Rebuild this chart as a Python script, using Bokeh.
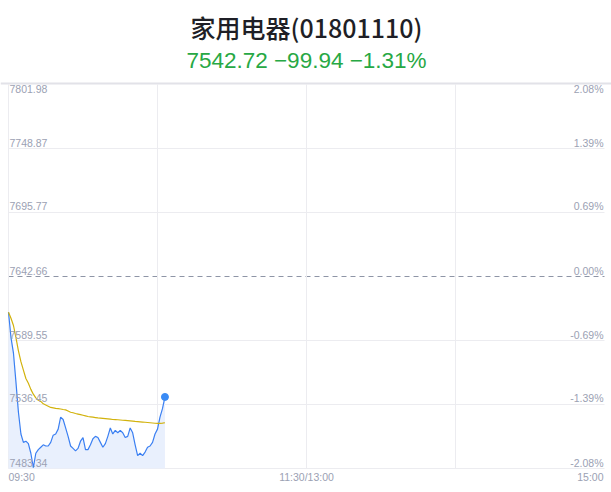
from bokeh.plotting import figure
from bokeh.models import Range1d, Label, ColumnDataSource
from bokeh.embed import file_html
from bokeh.resources import INLINE

title_text = "家用电器(01801110)"
subtitle_text = "7542.72 \u221299.94 \u22121.31%"
prev_close = 7642.66

price_ticks = [7801.98, 7748.87, 7695.77, 7642.66, 7589.55, 7536.45, 7483.34]
pct_labels = ["2.08%", "1.39%", "0.69%", "0.00%", "-0.69%", "-1.39%", "-2.08%"]
time_ticks = [0, 120, 240]
time_labels = ["09:30", "11:30/13:00", "15:00"]
vgrid_ticks = [0, 60, 120, 180]

minute_idx = list(range(64))
price = [7613.0, 7592, 7579, 7555, 7530, 7512, 7505, 7506, 7504, 7496,
         7484, 7496, 7499, 7501, 7503, 7502, 7502, 7505, 7511, 7512,
         7516, 7526, 7524, 7517, 7510, 7502, 7500, 7498, 7500, 7506,
         7509, 7499, 7499, 7503, 7508, 7510, 7509, 7505, 7501, 7504,
         7510, 7517, 7512, 7515, 7513, 7515, 7513, 7509, 7510, 7517,
         7513, 7503, 7494, 7496, 7494, 7497, 7501, 7502, 7505, 7512,
         7516, 7526, 7533, 7542.72]
avg_price = [7613, 7608, 7602, 7592, 7581, 7572, 7565, 7558, 7554, 7549,
             7545, 7542, 7540, 7539, 7537, 7536, 7535, 7534, 7533.7, 7533.3,
             7533, 7532.7, 7532.3, 7532, 7531, 7530, 7529.6, 7529, 7528.5, 7528,
             7527.5, 7527, 7526.5, 7526.2, 7525.9, 7525.6, 7525.3, 7525.1, 7524.9, 7524.7,
             7524.5, 7524.3, 7524, 7523.9, 7523.8, 7523.6, 7523.4, 7523.2, 7523, 7522.8,
             7522.6, 7522.4, 7522.3, 7522.1, 7521.9, 7521.7, 7521.5, 7521.3, 7521.1, 7520.9,
             7520.8, 7520.8, 7521, 7521.3]

LABEL_COLOR = "#9ba1b3"
GRID_COLOR = "#ececf0"
LABEL_FONT = "Liberation Sans"
TITLE_FONT = "'Noto Sans CJK SC Medium', 'Noto Sans CJK SC'"
NUM_FONT = "Liberation Sans"

W, H = 611, 492
PLOT_L, PLOT_R, PLOT_T, PLOT_B = 8, 604, 84, 468

ymin, ymax = price_ticks[-1], price_ticks[0]
xs_per_px = 240.0 / (PLOT_R - PLOT_L)
ys_per_px = (ymax - ymin) / (PLOT_B - PLOT_T)
x_range = Range1d(0 - PLOT_L * xs_per_px, 240 + (W - PLOT_R) * xs_per_px)
y_range = Range1d(ymin - (H - PLOT_B) * ys_per_px, ymax + PLOT_T * ys_per_px)

p = figure(width=W, height=H, output_backend="svg", toolbar_location=None,
           x_range=x_range, y_range=y_range,
           x_axis_type=None, y_axis_type=None,
           min_border=0)
p.outline_line_color = None
p.xgrid.visible = False
p.ygrid.visible = False
p.background_fill_color = "white"
p.border_fill_color = "white"

# horizontal grid lines
solid = [t for t in price_ticks if t != prev_close and t != ymax]
p.segment(x0=[0] * len(solid), x1=[240] * len(solid), y0=solid, y1=solid,
          line_color=GRID_COLOR, line_width=1)
p.segment(x0=[0], x1=[240], y0=[prev_close], y1=[prev_close],
          line_color="#8e95a6", line_width=1, line_dash="5 4")
# vertical grid lines
p.segment(x0=vgrid_ticks, x1=vgrid_ticks, y0=[ymin] * len(vgrid_ticks),
          y1=[ymax] * len(vgrid_ticks), line_color=GRID_COLOR, line_width=1)
# top border
p.segment(x0=[x_range.start], x1=[x_range.end], y0=[ymax + ys_per_px],
          y1=[ymax + ys_per_px], line_color="#e2e2e8", line_width=2)

src = ColumnDataSource(dict(x=minute_idx, price=price, avg=avg_price,
                            base=[ymin] * len(minute_idx)))
p.varea(x="x", y1="base", y2="price", source=src, fill_color="#e9f0fd", fill_alpha=1.0)
p.line(x="x", y="price", source=src, line_color="#3a7ff2", line_width=1.2)
p.line(x="x", y="avg", source=src, line_color="#d2b20c", line_width=1.2)
p.scatter(x=[minute_idx[-1]], y=[price[-1]], size=7, fill_color="#3a8bf5", line_color="#3a8bf5")

# y labels
for i, (t, pl) in enumerate(zip(price_ticks, pct_labels)):
    off = -4 if i == 0 else 6
    p.add_layout(Label(x=0, y=t, text=f"{t:.2f}", x_offset=1, y_offset=off,
                       text_baseline="middle", text_align="left",
                       text_font=LABEL_FONT, text_font_size="10.5px", text_color=LABEL_COLOR))
    p.add_layout(Label(x=240, y=t, text=pl, x_offset=-1, y_offset=off,
                       text_baseline="middle", text_align="right",
                       text_font=LABEL_FONT, text_font_size="10.5px", text_color=LABEL_COLOR))

# x labels
aligns = ["left", "center", "right"]
for t, lab, al in zip(time_ticks, time_labels, aligns):
    p.add_layout(Label(x=t, y=ymin, text=lab, y_offset=-8, text_baseline="middle",
                       text_align=al, x_offset=(-1 if al == "right" else 0),
                       text_font=LABEL_FONT, text_font_size="10.5px", text_color=LABEL_COLOR))

# titles
p.add_layout(Label(x=120, y=ymax, y_offset=58, text=title_text, text_align="center",
                   text_baseline="middle", text_font=TITLE_FONT, text_font_size="25px",
                   text_color="#1f1f26"))
p.add_layout(Label(x=120, y=ymax, y_offset=24, text=subtitle_text, text_align="center",
                   text_baseline="middle", text_font=NUM_FONT, text_font_size="22.5px",
                   text_color="#27a844"))

open("out.html", "w").write(file_html(p, INLINE))
